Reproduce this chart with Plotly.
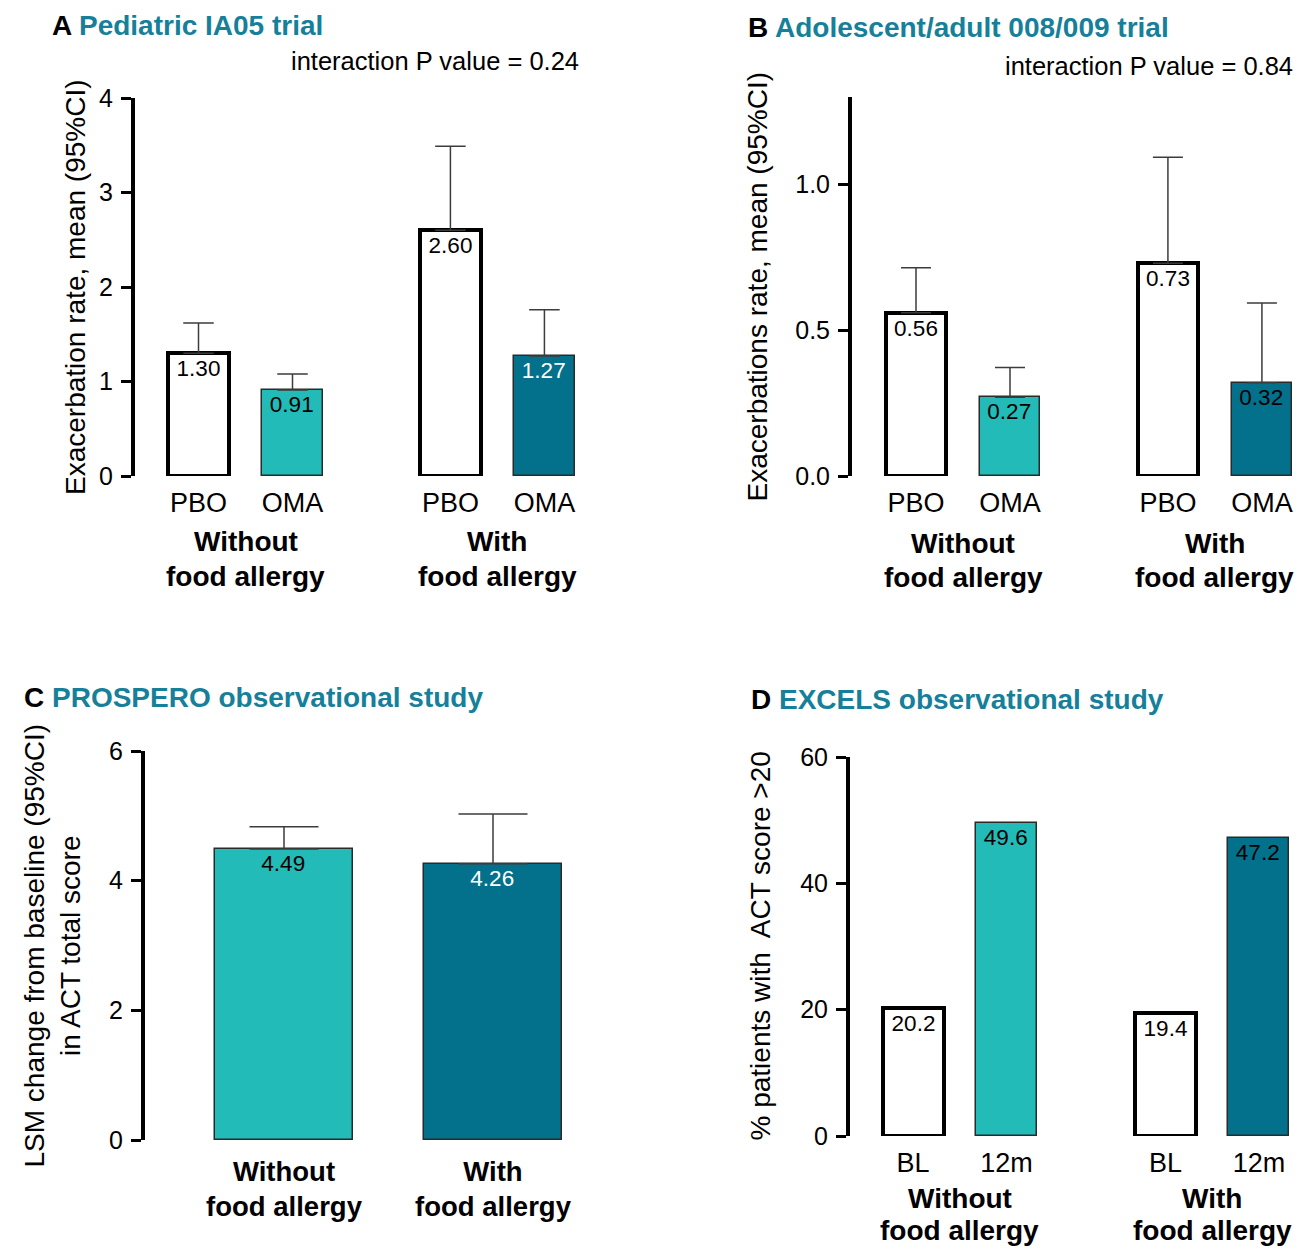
import plotly.graph_objects as go

W, H = 1301, 1249
FONT = "Liberation Sans, Arial, Helvetica, sans-serif"
LIGHT = "#22BBB7"
DARK = "#03718C"
TEAL_TITLE = "#16809A"
ERR = "#3C3C3C"

# ---------------- data ----------------
groups = ["Without<br>food allergy", "With<br>food allergy"]

a_arms = ["PBO", "OMA", "PBO", "OMA"]
a_rate = [1.30, 0.91, 2.60, 1.27]
a_upper = [1.62, 1.08, 3.49, 1.76]

b_arms = ["PBO", "OMA", "PBO", "OMA"]
b_rate = [0.56, 0.27, 0.73, 0.32]
b_upper = [0.714, 0.372, 1.093, 0.593]

c_groups = ["Without<br>food allergy", "With<br>food allergy"]
c_lsm = [4.49, 4.26]
c_upper = [4.83, 5.03]

d_times = ["BL", "12m", "BL", "12m"]
d_pct = [20.2, 49.6, 19.4, 47.2]

# ---------------- helpers ----------------
def px_x(px):
    return px / W


def px_y(py):
    return 1 - py / H


def xrange_for(dom_l, dom_r, first_center, unit):
    left = -(first_center - dom_l) / unit
    return [left, left + (dom_r - dom_l) / unit]


fig = go.Figure()

panels = [
    dict(name="A", title="Pediatric IA05 trial", vals=a_rate, upper=a_upper,
         ticks=a_arms, grouped=True, gap=2.68,
         fills=["white", LIGHT, "white", DARK],
         tcols=["black", "black", "black", "white"], fmt="%{y:.2f}",
         dom=(135, 600, 98, 476), first=198.5, unit=94, barpx=61,
         yrange=[0, 4], ytick=[0, 1, 2, 3, 4], yfmt="d",
         ytitle="Exacerbation rate, mean (95%CI)", ytitle_x=75,
         title_pos=(50, 25), pval="interaction P value = 0.24", pval_pos=(581, 61),
         tickfs=25, grp_y=(542, 576)),
    dict(name="B", title="Adolescent/adult 008/009 trial", vals=b_rate, upper=b_upper,
         ticks=b_arms, grouped=True, gap=2.68,
         fills=["white", LIGHT, "white", DARK],
         tcols=["black", "black", "black", "black"], fmt="%{y:.2f}",
         dom=(852, 1301, 97, 476), first=916, unit=94, barpx=60,
         yrange=[0, 1.3], ytick=[0, 0.5, 1.0], yfmt=".1f",
         ytitle="Exacerbations rate, mean (95%CI)", ytitle_x=757,
         title_pos=(746, 28), pval="interaction P value = 0.84", pval_pos=(1295, 66),
         tickfs=25, grp_y=(543, 577)),
    dict(name="C", title="PROSPERO observational study", vals=c_lsm, upper=c_upper,
         ticks=c_groups, grouped=False, gap=1,
         fills=[LIGHT, DARK],
         tcols=["black", "white"], fmt="%{y:.2f}",
         dom=(145, 600, 751, 1140), first=284, unit=209, barpx=138,
         yrange=[0, 6], ytick=[0, 2, 4, 6], yfmt="d",
         ytitle="LSM change from baseline (95%CI)<br>in ACT total score", ytitle_x=52,
         title_pos=(22, 697), pval=None, pval_pos=None,
         tickfs=27.5, grp_y=None),
    dict(name="D", title="EXCELS observational study", vals=d_pct, upper=None,
         ticks=d_times, grouped=True, gap=2.7,
         fills=["white", LIGHT, "white", DARK],
         tcols=["black", "black", "black", "black"], fmt="%{y:.1f}",
         dom=(850, 1301, 757, 1136), first=913, unit=93.5, barpx=61,
         yrange=[0, 60], ytick=[0, 20, 40, 60], yfmt="d",
         ytitle="% patients with  ACT score >20", ytitle_x=760,
         title_pos=(749, 699), pval=None, pval_pos=None,
         tickfs=25, grp_y=(1198, 1230)),
]

annotations = []
for k, p in enumerate(panels):
    n = k + 1
    xa = "x" if n == 1 else f"x{n}"
    ya = "y" if n == 1 else f"y{n}"
    nvals = len(p["vals"])
    if p["grouped"]:
        xs = [g * p["gap"] + i for g in range(nvals // 2) for i in range(2)]
    else:
        xs = list(range(nvals))
    white = [f == "white" for f in p["fills"]]
    err = None
    if p["upper"] is not None:
        err = dict(type="data", symmetric=False,
                   array=[u - v for u, v in zip(p["upper"], p["vals"])],
                   arrayminus=[0] * nvals, color=ERR, thickness=1.5,
                   width=p["barpx"] / 4)
    fig.add_trace(go.Bar(
        x=xs, y=p["vals"], xaxis=xa, yaxis=ya,
        width=p["barpx"] / p["unit"],
        marker=dict(color=p["fills"],
                    line=dict(color=["black" if w else "#2A2A2A" for w in white],
                              width=[4 if w else 1.5 for w in white])),
        error_y=err,
        texttemplate=p["fmt"], textposition="inside", insidetextanchor="end",
        textangle=0, constraintext="none",
        textfont=dict(family=FONT, size=22.5, color=p["tcols"]),
        showlegend=False, hoverinfo="skip",
    ))
    l, r, t, b = p["dom"]
    xkey = "xaxis" if n == 1 else f"xaxis{n}"
    ykey = "yaxis" if n == 1 else f"yaxis{n}"
    if p["grouped"]:
        ttext = p["ticks"]
        tfont = dict(family=FONT, size=27, color="black")
        tstand = 8
    else:
        ttext = [f"<b>{s.replace('<br>', '</b><br><b>')}</b>" for s in p["ticks"]]
        tfont = dict(family=FONT, size=p["tickfs"], color="black")
        tstand = 12
    fig.update_layout({
        xkey: dict(domain=[px_x(l), px_x(r)], anchor=ya,
                   range=xrange_for(l, r, p["first"], p["unit"]),
                   tickmode="array", tickvals=xs, ticktext=ttext,
                   tickfont=tfont, showline=False, showgrid=False,
                   zeroline=False, ticks="", ticklabelstandoff=tstand,
                   automargin=False, fixedrange=True),
        ykey: dict(domain=[px_y(b), px_y(t)], anchor=xa,
                   range=p["yrange"], tickmode="array", tickvals=p["ytick"],
                   tickformat=p["yfmt"], showline=True, linewidth=4,
                   linecolor="black", ticks="outside", ticklen=10,
                   tickwidth=3, tickcolor="black", showgrid=False,
                   zeroline=False, ticklabelstandoff=3,
                   tickfont=dict(family=FONT, size=25, color="black"),
                   automargin=False, fixedrange=True),
    })
    # panel title
    tx, ty = p["title_pos"]
    annotations.append(dict(
        xref="paper", yref="paper", x=px_x(tx), y=px_y(ty),
        xanchor="left", yanchor="middle", showarrow=False,
        text=f"<b>{p['name']} <span style='color:{TEAL_TITLE}'>{p['title']}</span></b>",
        font=dict(family=FONT, size=28, color="black")))
    # p value
    if p["pval"]:
        px_, py_ = p["pval_pos"]
        annotations.append(dict(
            xref="paper", yref="paper", x=px_x(px_), y=px_y(py_),
            xanchor="right", yanchor="middle", showarrow=False,
            text=p["pval"], font=dict(family=FONT, size=25.5, color="black")))
    # y title
    annotations.append(dict(
        xref="paper", yref="paper", x=px_x(p["ytitle_x"]),
        y=(px_y(b) + px_y(t)) / 2, xanchor="center", yanchor="middle",
        textangle=-90, showarrow=False, text=p["ytitle"],
        font=dict(family=FONT, size=28, color="black")))
    # group labels
    if p["grp_y"] is not None:
        for g in range(nvals // 2):
            cx = (xs[2 * g] + xs[2 * g + 1]) / 2
            for line_i, line in enumerate(groups[g].split("<br>")):
                annotations.append(dict(
                    xref=xa, yref="paper", x=cx, y=px_y(p["grp_y"][line_i]),
                    xanchor="center", yanchor="middle", showarrow=False,
                    text=f"<b>{line}</b>",
                    font=dict(family=FONT, size=28, color="black")))

fig.update_layout(
    template="none",
    width=W, height=H, margin=dict(l=0, r=0, t=0, b=0, pad=0, autoexpand=False),
    paper_bgcolor="white", plot_bgcolor="white",
    annotations=annotations, bargap=0, showlegend=False,
    font=dict(family=FONT, color="black"),
)

fig.write_html("out.html", config={"displayModeBar": False},
               post_script="document.body.style.margin='0';")
